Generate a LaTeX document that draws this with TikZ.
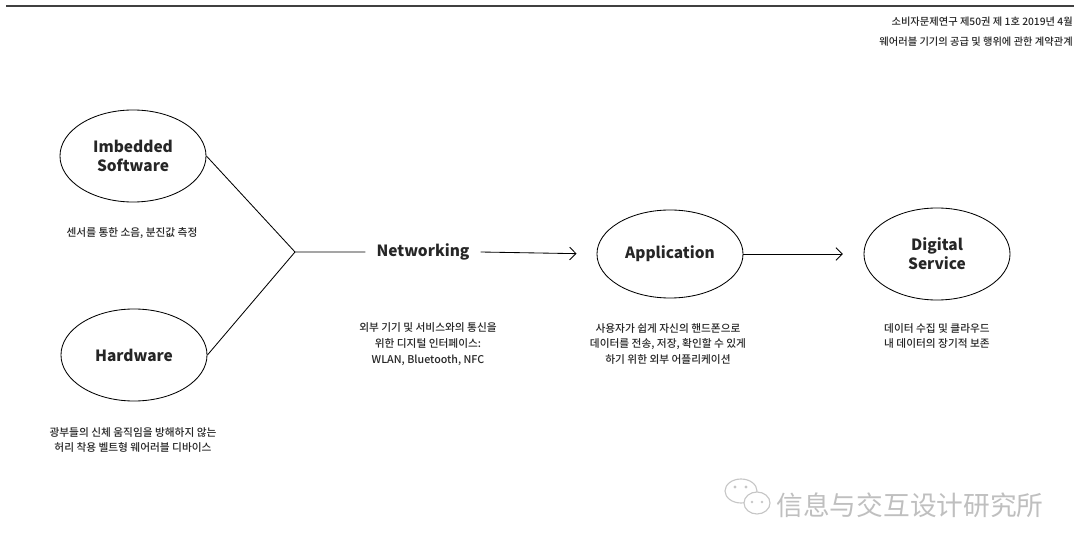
\documentclass[tikz,border=0pt]{standalone}
\usepackage{fontspec}
\setmainfont{Noto Sans CJK KR}
\newfontfamily\midfont{Noto Sans CJK KR Medium}
\newfontfamily\cjk{Noto Sans CJK SC}
\usetikzlibrary{shapes.geometric,arrows.meta}

\tikzset{
    part/.style={draw, ellipse, line width=0.6pt, minimum width=3.65cm, minimum height=2.3cm,
        inner sep=0pt, align=center, text=black!85, font=\fontsize{11}{13.5}\selectfont\bfseries},
    note/.style={align=center, text=black!85, font=\midfont\fontsize{7.6}{11.3}\selectfont},
    flow/.style={line width=0.6pt, -{Straight Barb[length=4.5pt,width=9pt]}},
}

\begin{document}
\begin{tikzpicture}[x=0.025cm, y=-0.025cm]
    \useasboundingbox (0,0) rectangle (1080,550);

    % Header
    \draw[line width=1pt, black!75] (6,6) -- (1074,6);
    \node[anchor=east, align=right, inner sep=0pt, text=black!85, font=\midfont\fontsize{7.3}{14.2}\selectfont] (header) at (1073,32)
        {소비자문제연구 제50권 제 1호 2019년 4월\\웨어러블 기기의 공급 및 행위에 관한 계약관계};

    % Imbedded software
    \node[part] (soft) at (133,156) {Imbedded\\Software};
    \node[note] (softnote) at (132,233) {센서를 통한 소음, 분진값 측정};

    % Hardware
    \node[part] (hard) at (134,355) {Hardware};
    \node[note] (hardnote) at (133,440) {광부들의 신체 움직임을 방해하지 않는\\허리 착용 벨트형 웨어러블 디바이스};

    % Networking
    \coordinate (join) at (295,252);
    \node[inner xsep=0.27cm, text=black!85, font=\fontsize{11}{13.5}\selectfont\bfseries] (net) at (423,252) {Networking};
    \node[note] (netnote) at (428,344) {외부 기기 및 서비스와의 통신을\\위한 디지털 인터페이스:\\WLAN, Bluetooth, NFC};

    % Application
    \node[part, minimum height=2.2cm] (app) at (670,254) {Application};
    \node[note] (appnote) at (668,344) {사용자가 쉽게 자신의 핸드폰으로\\데이터를 전송, 저장, 확인할 수 있게\\하기 위한 외부 어플리케이션};

    % Digital service
    \node[part] (digital) at (937,254) {Digital\\Service};
    \node[note] (digitalnote) at (937,336) {데이터 수집 및 클라우드\\내 데이터의 장기적 보존};

    % Connectors
    \draw[line width=0.6pt] (soft.east) -- (join) -- (net.west);
    \draw[line width=0.6pt] (hard.east) -- (join);
    \draw[flow, shorten >=0.5cm] (net.east) -- (app.west);
    \draw[flow, shorten >=0.52cm] (app.east) -- (digital.west);

    % Watermark
    \draw[gray!45, line width=0.8pt] (741,491) ellipse (16 and 12);
    \draw[gray!45, line width=0.8pt, fill=white] (757,503) ellipse (13 and 11);
    \fill[gray!45] (735,487) circle (1.6) (746,487) circle (1.6) (752,502) circle (1.4) (762,502) circle (1.4);
    \node[text=gray!50, font=\cjk\fontsize{19}{19}\selectfont] (mark) at (910,505) {信息与交互设计研究所};
\end{tikzpicture}
\end{document}
